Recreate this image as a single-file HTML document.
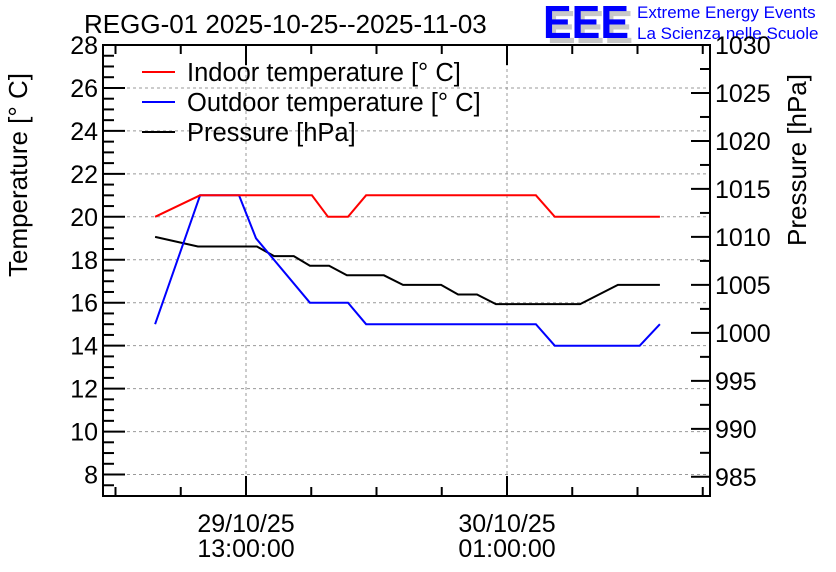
<!DOCTYPE html>
<html><head><meta charset="utf-8"><style>
body{margin:0;background:#fff}
svg{display:block;font-family:"Liberation Sans",sans-serif}
</style></head><body>
<svg id="chart" width="836" height="572" viewBox="0 0 836 572">
<text x="84" y="33" font-size="26">REGG-01 2025-10-25--2025-11-03</text>
<g>
<text x="547" y="43" font-size="46" font-weight="bold" fill="#c8c8c8" textLength="86" lengthAdjust="spacingAndGlyphs">EEE</text>
<text x="543" y="38" font-size="46" font-weight="bold" fill="#0000ff" textLength="86" lengthAdjust="spacingAndGlyphs">EEE</text>
<text x="637" y="18" font-size="17" fill="#0000ff">Extreme Energy Events</text>
<text x="637" y="39" font-size="17" fill="#0000ff">La Scienza nelle Scuole</text>
</g>
<g id="grid"></g>
<g id="series"></g>
<g id="axes"></g>
<text transform="translate(27,175) rotate(-90)" text-anchor="middle" font-size="26">Temperature [° C]</text>
<text transform="translate(806,160) rotate(-90)" text-anchor="middle" font-size="26">Pressure [hPa]</text>
<g>
<line x1="142" y1="72" x2="175" y2="72" stroke="#ff0000" stroke-width="2"/>
<text x="187" y="81" font-size="25.5">Indoor temperature [° C]</text>
<line x1="142" y1="102" x2="175" y2="102" stroke="#0000ff" stroke-width="2"/>
<text x="187" y="111" font-size="25.5">Outdoor temperature [° C]</text>
<line x1="142" y1="132" x2="175" y2="132" stroke="#000" stroke-width="2"/>
<text x="187" y="141" font-size="25.5">Pressure [hPa]</text>
</g>
</svg>
<script>
// hours since 29/10/25 00:00
const indoorTimes = [8.82,10.89,16.03,16.77,17.69,18.52,26.33,27.2,32.03];
const indoorValues = [20,21,21,20,20,21,21,20,20];
const outdoorTimes = [8.82,10.89,12.68,13.46,15.94,17.69,18.52,26.33,27.2,31.1,32.03];
const outdoorValues = [15,21,21,19,16,16,15,15,14,14,15];
const pressureTimes = [8.82,10.79,13.5,14.29,15.2,15.94,16.82,17.64,19.34,20.22,21.97,22.75,23.62,24.49,28.36,30.1,32.03];
const pressureValues = [1010,1009,1009,1008,1008,1007,1007,1006,1006,1005,1005,1004,1004,1003,1003,1005,1005];
const leftTicks = [8,10,12,14,16,18,20,22,24,26,28];
const rightTicks = [985,990,995,1000,1005,1010,1015,1020,1025,1030];
const xTickHours = [13,25];
const xTickDates = ["29/10/25","30/10/25"];
const xTickTimes = ["13:00:00","01:00:00"];

const L=103,R=710,T=45,B=496;
const yL=v=>B-(v-7)/(28-7)*(B-T);
const yR=p=>B-(p-983)/(1030-983)*(B-T);
const xT=h=>246+(h-13)*21.75;
const NS="http://www.w3.org/2000/svg";
function mk(tag,attrs,parent){const e=document.createElementNS(NS,tag);for(const k in attrs)e.setAttribute(k,attrs[k]);parent.appendChild(e);return e;}
const grid=document.getElementById('grid'),axes=document.getElementById('axes'),series=document.getElementById('series');

leftTicks.forEach(v=>{const y=yL(v);
 if(v<28){const g=mk('line',{x1:L,x2:R,y1:y,y2:y,stroke:'#999','stroke-dasharray':'3,3','stroke-width':1},grid);
 
 }
 const t=mk('text',{x:98,y:y+9,'text-anchor':'end','font-size':25},axes);t.textContent=v;
 
 
});
xTickHours.forEach((h,i)=>{const x=xT(h);
 const g=mk('line',{x1:x,x2:x,y1:T,y2:B,stroke:'#999','stroke-dasharray':'3,3','stroke-width':1},grid);
 
 
 const t1=mk('text',{x:x,y:532,'text-anchor':'middle','font-size':25},axes);t1.textContent=xTickDates[i];
 
 
 const t2=mk('text',{x:x,y:557,'text-anchor':'middle','font-size':25},axes);t2.textContent=xTickTimes[i];
 
 
});
rightTicks.forEach(p=>{const y=yR(p);
 const t=mk('text',{x:715,y:y+9,'font-size':25},axes);t.textContent=p;
 
 
});
// ticks
for(let v=7;v<=28.001;v+=0.5){const y=yL(v);const len=(Math.abs(v%2)<1e-6)?22:11;mk('line',{x1:L,x2:L+len,y1:y,y2:y,stroke:'#000','stroke-width':2},axes);}
for(let p=985;p<=1030.001;p+=2.5){const y=yR(p);const len=(Math.abs(p%5)<1e-6)?19:10;mk('line',{x1:R,x2:R-len,y1:y,y2:y,stroke:'#000','stroke-width':2},axes);}
for(let h=1;h<=37;h+=3){const x=xT(h);if(x<L||x>R)continue;const len=((h-1)%12===0)?20:9;
 mk('line',{x1:x,x2:x,y1:B,y2:B-len,stroke:'#000','stroke-width':2},axes);
 mk('line',{x1:x,x2:x,y1:T,y2:T+len,stroke:'#000','stroke-width':2},axes);}
const fr=mk('rect',{x:L,y:T,width:R-L,height:B-T,fill:'none',stroke:'#000','stroke-width':2},axes);



function line(ts,vs,yf,color,name){const d=ts.map((t,i)=>(i?'L':'M')+xT(t).toFixed(1)+' '+yf(vs[i]).toFixed(1)).join(' ');
 const p=mk('path',{d:d,fill:'none',stroke:color,'stroke-width':2},series);
 
 }
line(pressureTimes,pressureValues,yR,'#000','pressure-line');
line(outdoorTimes,outdoorValues,yL,'#0000ff','outdoor-temperature-line');
line(indoorTimes,indoorValues,yL,'#ff0000','indoor-temperature-line');
</script>
</body></html>
